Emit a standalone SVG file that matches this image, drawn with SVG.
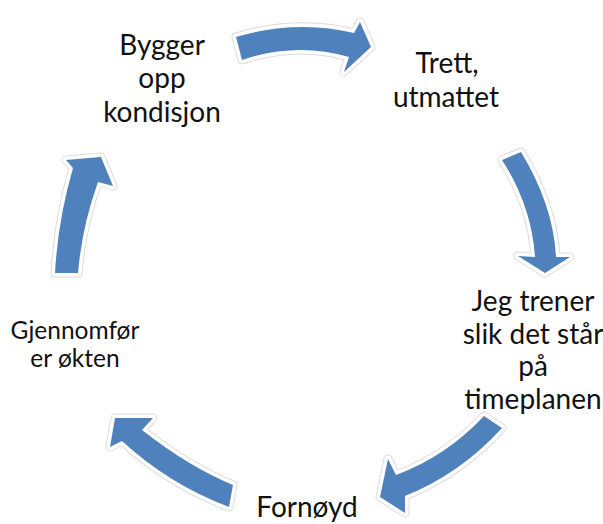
<svg xmlns="http://www.w3.org/2000/svg" xmlns:xlink="http://www.w3.org/1999/xlink" width="603" height="524" viewBox="0 0 603 524">
<style>
.lbl{font-family:Lato,"Open Sans","Liberation Sans",sans-serif;fill:#111;text-anchor:middle}
.big{font-size:28px}
.mid{font-size:24.5px}
.halo{fill:#dcdcdc;stroke:#dcdcdc;stroke-width:9;stroke-linejoin:round}
.edge{fill:#fff;stroke:#fff;stroke-width:7;stroke-linejoin:round}
.body{fill:#4f81bd}
</style>
<defs>
<path id="a1" d="M236,37 Q297,19 354,33 L360,22 L371,47 L344,72 L349,57 Q296.5,41.5 242,60 Z"/>
<path id="a2" d="M521,152 Q553.5,205.5 556,257 L570,257 L545,273 L518,256 L535,257 Q531.5,205.5 502,160 Z"/>
<path id="a3" d="M502,428 Q460,474 405,496 L405,513 L380,497 L388,459 L396,475 Q446,456.5 484,416 Z"/>
<path id="a4" d="M229,507 Q168.5,484 122,441 L110,447 L115,418 L153,418 L142,430 Q188.5,466.5 233,485 Z"/>
<path id="a5" d="M55,273 Q58,219.5 73,168 L66,160 L101,157 L113,186 L98,182 Q82,226.5 78,273 Z"/>
</defs>
<g id="connectors">
<g id="arrow-1"><use xlink:href="#a1" class="halo"/><use xlink:href="#a1" class="edge"/><use xlink:href="#a1" class="body"/></g>
<g id="arrow-2"><use xlink:href="#a2" class="halo"/><use xlink:href="#a2" class="edge"/><use xlink:href="#a2" class="body"/></g>
<g id="arrow-3"><use xlink:href="#a3" class="halo"/><use xlink:href="#a3" class="edge"/><use xlink:href="#a3" class="body"/></g>
<g id="arrow-4"><use xlink:href="#a4" class="halo"/><use xlink:href="#a4" class="edge"/><use xlink:href="#a4" class="body"/></g>
<g id="arrow-5"><use xlink:href="#a5" class="halo"/><use xlink:href="#a5" class="edge"/><use xlink:href="#a5" class="body"/></g>
</g>
<g id="node-bygger"><text class="lbl big" x="162" y="55">Bygger</text><text class="lbl big" x="162" y="88">opp</text><text class="lbl big" x="162" y="122">kondisjon</text></g>
<g id="node-trett"><text class="lbl big" x="447" y="73">Trett,</text><text class="lbl big" x="446" y="107">utmattet</text></g>
<g id="node-jeg"><text class="lbl big" x="533" y="311">Jeg trener</text><text class="lbl big" x="533" y="344">slik det står</text><text class="lbl big" x="533" y="376">på</text><text class="lbl big" x="533" y="409">timeplanen</text></g>
<g id="node-fornoyd"><text class="lbl big" x="307" y="517">Fornøyd</text></g>
<g id="node-gjennomfor"><text class="lbl mid" x="75" y="339">Gjennomfør</text><text class="lbl mid" x="75" y="367">er økten</text></g>
</svg>
